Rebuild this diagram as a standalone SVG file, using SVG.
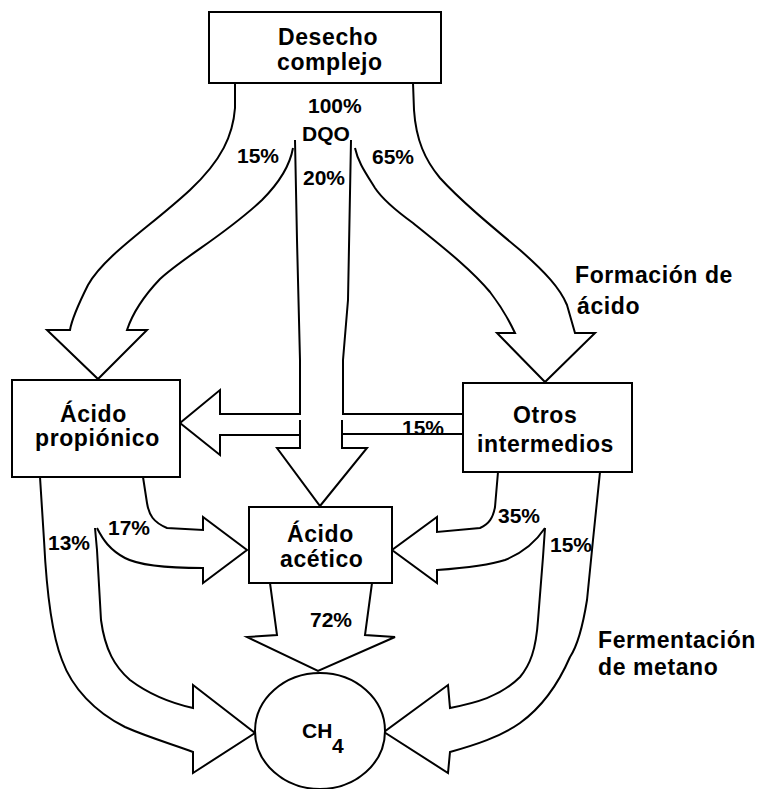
<svg xmlns="http://www.w3.org/2000/svg" width="765" height="789" viewBox="0 0 765 789">
<style>
  .box { fill: #fff; stroke: #000; stroke-width: 2; }
  .flow { fill: none; stroke: #000; stroke-width: 2; stroke-linejoin: miter; stroke-linecap: butt; }
  .w { font-family: "Liberation Sans", Arial, sans-serif; font-weight: bold; font-size: 23px; letter-spacing: 0.6px; fill: #000; }
  .n { font-family: "Liberation Sans", Arial, sans-serif; font-weight: bold; font-size: 21px; fill: #000; }
</style>
<rect width="765" height="789" fill="#fff"/>

<g id="connectors">
  <!-- 15% to Acido propionico -->
  <path class="flow" d="M235,83 L235,108 C233,135 222,160 190,190 C150,227 105,255 88,285 C78,305 72,318 70,330 L47,330 L98,379 L147,330 L127,330 C132,315 140,300 160,279 C185,256 225,235 262,200 C280,182 290,165 293,148"/>
  <!-- 65% to Otros intermedios -->
  <path class="flow" d="M413,83 L414,110 C416,140 425,160 440,178 C460,200 490,225 520,250 C545,272 560,288 567,305 L575,333 L595,333 L545,382 L497,333 L515,333 C508,318 500,305 490,292 C470,268 440,245 413,223 C395,210 383,200 375,188 C365,172 358,162 355,148"/>
  <!-- 20% central -->
  <path class="flow" d="M295,140 L297,240 L300,360 L300,414 L220,414 L220,390 L180,423 L220,455 L220,435 L300,435"/>
  <path class="flow" d="M300,420 L300,448 L277,448 L320,506 L367,448 L342,448 L342,420"/>
  <path class="flow" d="M351,140 L348,300 L343,360 L343,414 L463,414"/>
  <path class="flow" d="M342,434 L463,434"/>
  <!-- 17% propionico to acetico -->
  <path class="flow" d="M143,477 L147,503 C149,515 153,522 167,528 L203,530 L203,517 L247,550 L203,583 L203,568 C170,568 140,566 125,558 C110,550 103,540 97,528"/>
  <!-- 13% propionico to CH4 -->
  <path class="flow" d="M40,477 L44,540 C46,580 50,630 62,660 C72,688 95,712 125,727 C150,738 175,745 193,752 L193,773 L255,733 L193,685 L193,708 C175,704 150,695 130,680 C115,667 105,650 101,620 L97,550 L95,528"/>
  <!-- 72% acetico to CH4 -->
  <path class="flow" d="M270,583 L277,635 L247,637 L318,671 L395,637 L365,635 L372,583"/>
  <!-- 35% otros to acetico -->
  <path class="flow" d="M498,472 L495,507 C493,518 489,524 480,528 L437,532 L437,517 L392,550 L437,583 L437,570 C465,568 490,565 505,560 C525,552 537,540 545,528"/>
  <!-- 15% otros to CH4 -->
  <path class="flow" d="M600,472 L593,540 L587,600 C583,625 578,645 570,657 C560,680 545,705 520,723 C500,737 475,745 450,752 L448,773 L384,732 L448,685 L450,708 C475,703 500,697 520,677 C530,665 536,650 538,620 L543,557 L545,528"/>

  <text class="n" x="308" y="113">100%</text>
  <text class="n" x="302" y="141">DQO</text>
  <text class="n" x="237" y="163">15%</text>
  <text class="n" x="303" y="185">20%</text>
  <text class="n" x="372" y="164">65%</text>
  <text class="n" x="402" y="435">15%</text>
  <text class="n" x="108" y="535">17%</text>
  <text class="n" x="48" y="550">13%</text>
  <text class="n" x="310" y="627">72%</text>
  <text class="n" x="498" y="523">35%</text>
  <text class="n" x="550" y="552">15%</text>
</g>

<g id="desecho">
  <rect class="box" x="209" y="12" width="232" height="71"/>
  <text class="w" x="278" y="45">Desecho</text>
  <text class="w" x="277" y="70">complejo</text>
</g>

<g id="propionico">
  <rect class="box" x="12" y="380" width="168" height="97"/>
  <text class="w" x="60" y="422">Ácido</text>
  <text class="w" x="35" y="446">propiónico</text>
</g>

<g id="otros">
  <rect class="box" x="463" y="383" width="169" height="89"/>
  <text class="w" x="513" y="423">Otros</text>
  <text class="w" x="477" y="452">intermedios</text>
</g>

<g id="acetico">
  <rect class="box" x="249" y="507" width="143" height="76"/>
  <text class="w" x="287" y="542">Ácido</text>
  <text class="w" x="280" y="567">acético</text>
</g>

<g id="ch4">
  <ellipse class="box" cx="320" cy="731" rx="65" ry="58"/>
  <text class="n" x="302" y="738" style="font-size:21px">CH</text>
  <text class="n" x="332" y="753" style="font-size:21px">4</text>
</g>

<g id="labels">
  <text class="w" x="575" y="283">Formación de</text>
  <text class="w" x="577" y="314">ácido</text>
  <text class="w" x="598" y="648">Fermentación</text>
  <text class="w" x="598" y="675">de metano</text>
</g>
</svg>
